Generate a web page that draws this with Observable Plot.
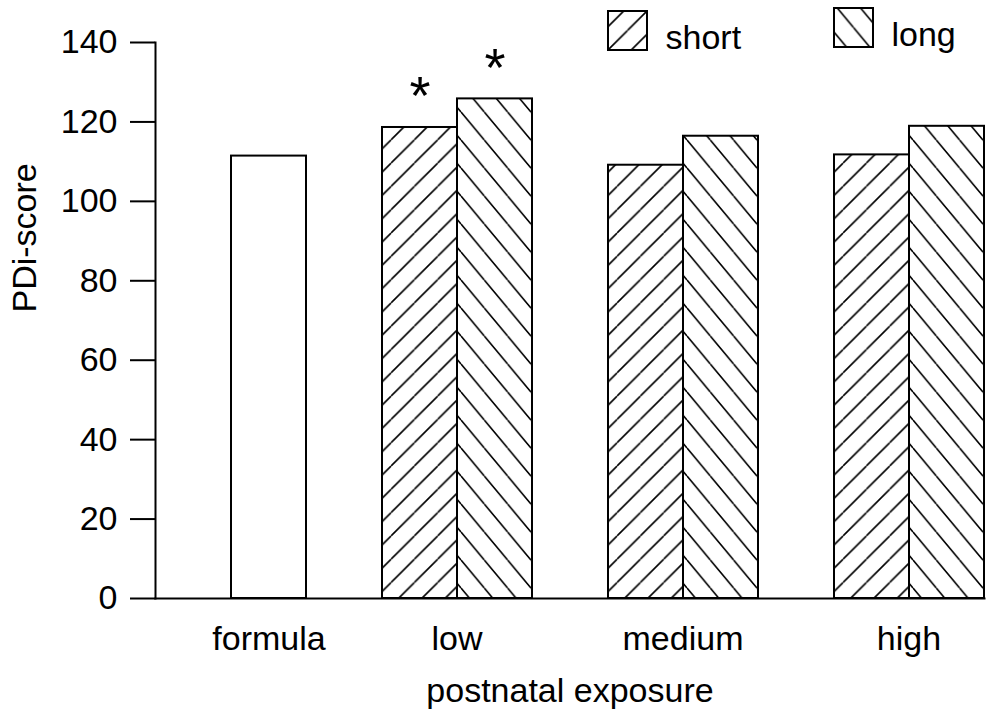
<!DOCTYPE html>
<html>
<head>
<meta charset="utf-8">
<script src="https://cdn.jsdelivr.net/npm/d3@7"></script>
<script src="https://cdn.jsdelivr.net/npm/@observablehq/plot@0.6"></script>
<style>
  body { margin: 0; background: #fff; }
</style>
</head>
<body>
<div id="chart"></div>
<script>
// PDI scores by postnatal exposure and duration of breastfeeding
const groups = ["formula", "low", "medium", "high"];
const durations = ["short", "long"];
const exposures = ["low", "medium", "high"];
const formulaScore = 111.4;
const shortScores = [118.6, 109.1, 111.7];
const longScores = [125.8, 116.4, 118.9];
const shortMarks = ["*", "", ""];
const longMarks = ["*", "", ""];
const yTicks = [0, 20, 40, 60, 80, 100, 120, 140];
const yLabel = "PDi-score";
const xLabel = "postnatal exposure";

const hatch = {short: "url(#hatch-short)", long: "url(#hatch-long)"};

// One row per bar; the formula group has a single bar in its right-hand column
const bars = [
  {group: "formula", slot: "long", value: formulaScore, fill: "white", mark: ""},
  ...exposures.flatMap((g, i) => [
    {group: g, slot: "short", value: shortScores[i], fill: hatch.short, mark: shortMarks[i]},
    {group: g, slot: "long", value: longScores[i], fill: hatch.long, mark: longMarks[i]}
  ])
];
const pairedGroups = exposures;
const singleBars = bars.filter((d) => d.group === "formula");

// Diagonal hatching for the two durations
function hatchDefs() {
  const defs = d3.create("svg:defs");
  const add = (id, w, h, d) => {
    defs.append("pattern")
      .attr("id", id)
      .attr("patternUnits", "userSpaceOnUse")
      .attr("width", w)
      .attr("height", h)
      .call((p) => p.append("rect").attr("width", w).attr("height", h).attr("fill", "white"))
      .append("path")
      .attr("d", d)
      .attr("stroke", "black")
      .attr("stroke-width", 1.6)
      .attr("fill", "none");
  };
  const w = 23.3, hs = 23.3, hl = 28;
  add("hatch-short", w, hs, `M0,${hs}L${w},0M${-w},${hs}L0,0M${w},${hs}L${2 * w},0`);
  add("hatch-long", w, hl, `M0,0L${w},${hl}M${-w},0L0,${hl}M${w},0L${2 * w},${hl}`);
  return defs.node();
}

const legend = [
  {label: "short", fill: hatch.short, dx: 472, dy: -12},
  {label: "long", fill: hatch.long, dx: 698, dy: -15}
];

const chart = Plot.plot({
  width: 986,
  height: 713,
  marginTop: 42,
  marginBottom: 115,
  marginLeft: 153,
  marginRight: 1,
  style: {fontFamily: "Liberation Sans, Arial, sans-serif", fontSize: "34px", color: "black", background: "white"},
  fx: {domain: groups, paddingInner: 1 / 3, paddingOuter: 0, axis: null},
  x: {domain: durations, padding: 0, axis: null},
  y: {domain: [0, 140], axis: null},
  color: {type: "identity"},
  marks: [
    hatchDefs,
    Plot.barY(bars, {fx: "group", x: "slot", y: "value", fill: "fill", stroke: "black", strokeWidth: 2}),
    Plot.text(bars.filter((d) => d.mark), {
      fx: "group", x: "slot", y: "value", text: "mark",
      fontSize: 54, lineAnchor: "bottom", dy: -13
    }),
    Plot.axisY({ticks: yTicks, tickSize: 25, tickPadding: 13, strokeWidth: 2, label: null}),
    // y axis line and zero baseline span the whole frame
    Plot.frame({anchor: "left", facet: "super", strokeWidth: 2}),
    Plot.frame({anchor: "bottom", facet: "super", strokeWidth: 2}),
    Plot.text(pairedGroups, {fx: (d) => d, text: (d) => d, frameAnchor: "bottom", lineAnchor: "bottom", dy: 51}),
    Plot.text(singleBars, {fx: "group", x: "slot", text: "group", frameAnchor: "bottom", lineAnchor: "bottom", dy: 51}),
    Plot.text([xLabel], {facet: "super", text: (d) => d, frameAnchor: "bottom", lineAnchor: "bottom", dy: 103}),
    Plot.text([yLabel], {facet: "super", text: (d) => d, frameAnchor: "left", rotate: -90, lineAnchor: "bottom", dx: -120, dy: -8}),
    // legend swatches and labels
    ...legend.map((l) => Plot.dot([l], {
      facet: "super", frameAnchor: "top-left", symbol: "square", r: 22,
      fill: l.fill, stroke: "black", strokeWidth: 2, dx: l.dx, dy: l.dy
    })),
    ...legend.map((l) => Plot.text([l], {
      facet: "super", frameAnchor: "top-left", text: "label", textAnchor: "start",
      lineAnchor: "bottom", dx: l.dx + 38, dy: l.dy + 18
    }))
  ]
});

document.getElementById("chart").append(chart);
</script>
</body>
</html>
